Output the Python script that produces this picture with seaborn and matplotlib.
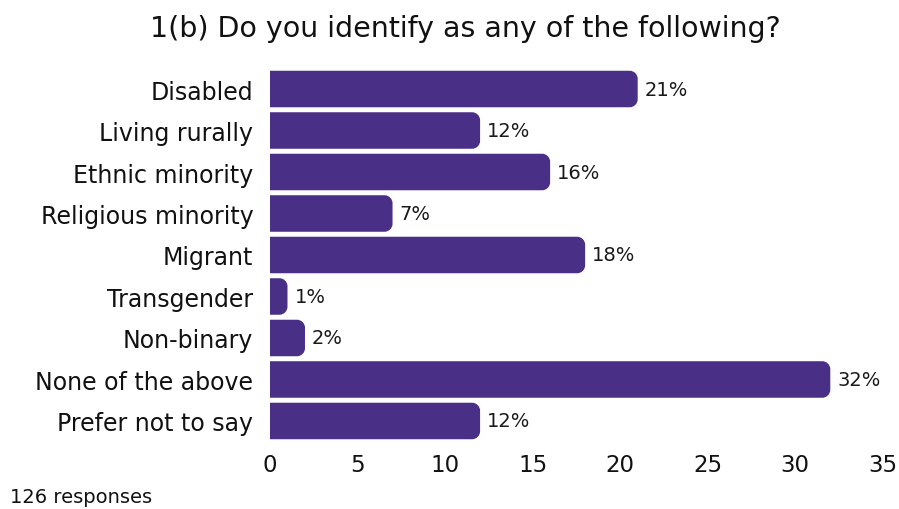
import matplotlib
matplotlib.use("Agg")
import matplotlib.pyplot as plt
from matplotlib.path import Path
from matplotlib.patches import PathPatch
import seaborn as sns
import pandas as pd

categories = ["Disabled", "Living rurally", "Ethnic minority", "Religious minority",
              "Migrant", "Transgender", "Non-binary", "None of the above",
              "Prefer not to say"]
percentages = [21, 12, 16, 7, 18, 1, 2, 32, 12]
x_ticks = [0, 5, 10, 15, 20, 25, 30, 35]
title = "1(b) Do you identify as any of the following?"
footnote = "126 responses"

bar_color = "#4a2f87"

sns.set_theme(style="white")
plt.rcParams["font.family"] = ["DejaVu Sans"]

df = pd.DataFrame({"category": categories, "pct": percentages})

fig = plt.figure(figsize=(8.99, 5.10), dpi=100)
ax = fig.add_axes([0.3003, 0.1319, 0.6817, 0.7323])

sns.barplot(data=df, x="pct", y="category", color=bar_color, saturation=1,
            width=0.88, ax=ax, orient="h")

ax.set_xlim(0, 35)
ax.set_ylim(len(categories) - 0.5, -0.5)

# Replace plain rectangles with bars rounded on their right-hand end
fig.canvas.draw()
px_per_x = ax.bbox.width / 35.0
px_per_y = ax.bbox.height / len(categories)
radius_px = 8.0
for patch in list(ax.patches):
    x0, y0 = patch.get_x(), patch.get_y()
    w, h = patch.get_width(), patch.get_height()
    patch.set_visible(False)
    rx = min(radius_px / px_per_x, w / 2)
    ry = min(radius_px / px_per_y, h / 2)
    k = 0.5523
    x1, y1 = x0 + w, y0 + h
    verts = [
        (x0, y0),
        (x1 - rx, y0),
        (x1 - rx + k * rx, y0), (x1, y0 + ry - k * ry), (x1, y0 + ry),
        (x1, y1 - ry),
        (x1, y1 - ry + k * ry), (x1 - rx + k * rx, y1), (x1 - rx, y1),
        (x0, y1),
        (x0, y0),
    ]
    codes = [Path.MOVETO, Path.LINETO,
             Path.CURVE4, Path.CURVE4, Path.CURVE4,
             Path.LINETO,
             Path.CURVE4, Path.CURVE4, Path.CURVE4,
             Path.LINETO, Path.CLOSEPOLY]
    ax.add_patch(PathPatch(Path(verts, codes), facecolor=bar_color,
                           edgecolor="none", zorder=3))

for i, v in enumerate(percentages):
    ax.text(v + 0.4, i, f"{v}%", va="center", ha="left",
            fontsize=14, color="#1a1a1a")

ax.set_xticks(x_ticks)
ax.set_xticklabels([str(t) for t in x_ticks], fontsize=16.5, color="#111111")
ax.tick_params(axis="y", labelsize=17, labelcolor="#111111", length=0, pad=12)
ax.tick_params(axis="x", length=0, pad=8)
ax.set_xlabel("")
ax.set_ylabel("")
for s in ax.spines.values():
    s.set_visible(False)

fig.text(0.518, 0.943, title, ha="center", va="center", fontsize=20.5, color="#111111")
fig.text(0.011, 0.025, footnote, ha="left", va="center", fontsize=14, color="#111111")

fig.savefig("out.png", dpi=100, facecolor="white")
